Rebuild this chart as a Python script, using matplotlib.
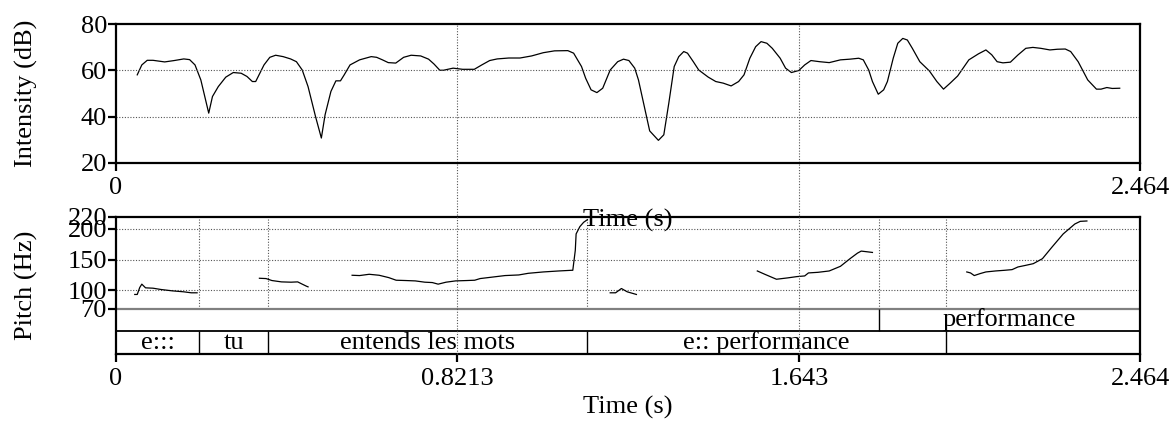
import matplotlib.pyplot as plt
from matplotlib.transforms import blended_transform_factory
from matplotlib.lines import Line2D

plt.rcParams['font.family'] = ['Liberation Serif', 'DejaVu Serif']
plt.rcParams['font.size'] = 19

T_END = 2.464

# intensity contour (s, dB)
int_t = [0.051, 0.062, 0.075, 0.089, 0.117, 0.140, 0.163, 0.177, 0.190, 0.204,
         0.223, 0.232, 0.246, 0.264, 0.282, 0.301, 0.315, 0.328, 0.336, 0.356,
         0.370, 0.384, 0.402, 0.420, 0.434, 0.448, 0.462, 0.480, 0.494, 0.503,
         0.517, 0.529, 0.540, 0.549, 0.563, 0.586, 0.614, 0.627, 0.641, 0.655,
         0.673, 0.692, 0.710, 0.733, 0.752, 0.765, 0.779, 0.788, 0.811, 0.834,
         0.862, 0.880, 0.899, 0.917, 0.945, 0.972, 1.000, 1.028, 1.055, 1.087,
         1.101, 1.120, 1.130, 1.143, 1.157, 1.171, 1.189, 1.207, 1.221, 1.234,
         1.248, 1.257, 1.271, 1.284, 1.305, 1.318, 1.330, 1.343, 1.354, 1.366,
         1.375, 1.389, 1.402, 1.425, 1.443, 1.461, 1.480, 1.498, 1.511, 1.525,
         1.539, 1.552, 1.566, 1.579, 1.598, 1.611, 1.625, 1.643, 1.657, 1.672,
         1.693, 1.716, 1.743, 1.766, 1.787, 1.798, 1.811, 1.820, 1.834, 1.847,
         1.856, 1.870, 1.881, 1.893, 1.904, 1.916, 1.934, 1.957, 1.975, 1.991,
         2.007, 2.025, 2.052, 2.075, 2.093, 2.107, 2.120, 2.134, 2.152, 2.170,
         2.189, 2.206, 2.225, 2.247, 2.265, 2.284, 2.297, 2.315, 2.338, 2.359,
         2.370, 2.384, 2.397, 2.415]
int_db = [58.1, 62.4, 64.4, 64.4, 63.7, 64.3, 65.0, 64.7, 62.4, 55.9,
          41.5, 48.7, 53.0, 57.1, 59.1, 58.8, 57.4, 55.2, 55.2, 62.4,
          65.7, 66.6, 66.0, 65.0, 63.8, 60.2, 53.0, 40.0, 30.7, 40.8,
          50.9, 55.5, 55.5, 58.1, 62.4, 64.6, 66.0, 65.7, 64.6, 63.4,
          63.2, 65.7, 66.6, 66.3, 64.9, 62.8, 60.1, 60.1, 61.0, 60.5,
          60.5, 62.4, 64.3, 65.0, 65.4, 65.4, 66.3, 67.7, 68.5, 68.6,
          67.5, 61.7, 56.6, 51.6, 50.4, 52.3, 60.2, 63.8, 64.9, 64.3,
          61.0, 55.9, 44.4, 33.8, 29.7, 32.1, 45.8, 61.7, 66.0, 68.2,
          67.5, 63.8, 60.2, 57.1, 55.2, 54.5, 53.3, 55.2, 58.1, 65.3,
          70.3, 72.5, 71.8, 69.6, 65.3, 61.0, 59.1, 60.0, 62.4, 64.3,
          63.8, 63.4, 64.6, 64.9, 65.3, 64.6, 60.2, 55.2, 49.7, 51.6,
          55.2, 65.3, 71.8, 73.9, 73.2, 69.6, 63.8, 59.8, 55.2, 51.9,
          54.5, 57.6, 64.6, 67.2, 68.9, 66.8, 63.8, 63.3, 63.6, 66.7,
          69.6, 70.0, 69.6, 68.9, 69.2, 69.3, 68.2, 63.8, 55.9, 51.9,
          51.9, 52.6, 52.2, 52.3]

# pitch contour pieces (s, Hz)
pitch_t1 = [0.045, 0.051, 0.057, 0.062, 0.071, 0.089, 0.108, 0.135, 0.163, 0.181, 0.195]
pitch_hz1 = [93.2, 93.2, 104.5, 110.0, 104.0, 103.4, 101.3, 99.1, 97.5, 95.9, 95.9]
pitch_t2 = [0.345, 0.361, 0.375, 0.398, 0.421, 0.437, 0.448, 0.458, 0.462]
pitch_hz2 = [119.6, 119.1, 115.9, 113.7, 113.2, 113.7, 110.0, 106.7, 105.6]
pitch_t3 = [0.568, 0.586, 0.609, 0.633, 0.656, 0.674, 0.697, 0.720, 0.743, 0.761,
            0.775, 0.794, 0.817, 0.844, 0.863, 0.876, 0.909, 0.936, 0.969, 0.992,
            1.028, 1.065, 1.096, 1.099, 1.105, 1.107, 1.116, 1.125, 1.134]
pitch_hz3 = [124.5, 124.0, 126.1, 124.5, 120.7, 116.4, 115.9, 115.3, 113.2, 112.6,
             110.0, 113.2, 115.3, 115.9, 116.4, 119.1, 121.8, 124.0, 125.0, 127.7,
             129.9, 131.5, 132.6, 132.6, 165.0, 191.9, 203.8, 210.8, 215.1]
pitch_t4 = [1.189, 1.202, 1.216, 1.230, 1.252]
pitch_hz4 = [95.9, 95.9, 102.9, 97.5, 93.2]
pitch_t5 = [1.543, 1.561, 1.589, 1.616, 1.638, 1.657, 1.666, 1.689, 1.716, 1.743,
            1.766, 1.784, 1.793, 1.807, 1.820]
pitch_hz5 = [131.5, 126.1, 118.0, 120.2, 122.3, 123.4, 128.3, 129.3, 131.5, 139.1,
             151.5, 160.6, 163.9, 162.8, 161.7]
pitch_t6 = [2.047, 2.056, 2.065, 2.079, 2.093, 2.116, 2.138, 2.156, 2.170, 2.189,
            2.207, 2.229, 2.252, 2.279, 2.307, 2.320, 2.336]
pitch_hz6 = [129.9, 128.3, 124.0, 127.2, 129.9, 131.5, 132.6, 133.7, 138.0, 140.7,
             143.4, 151.5, 170.4, 191.9, 208.1, 212.4, 213.0]
pitch_pieces = [(pitch_t1, pitch_hz1), (pitch_t2, pitch_hz2), (pitch_t3, pitch_hz3),
                (pitch_t4, pitch_hz4), (pitch_t5, pitch_hz5), (pitch_t6, pitch_hz6)]

# text grid tiers
tier1_edges = [0, 1.836, 2.464]
tier1_labels = ['', 'performance']
tier2_edges = [0, 0.2007, 0.366, 1.134, 1.996, 2.464]
tier2_labels = ['e:::', 'tu', 'entends les mots', 'e:: performance', '']

top_xticks = [0, 2.464]
bot_xticks = [0, 0.8213, 1.643, 2.464]
bot_xlabels = ['0', '0.8213', '1.643', '2.464']
db_ticks = [20, 40, 60, 80]
hz_ticks = [70, 100, 150, 200, 220]
hz_grid = [100, 150, 200]
db_grid = [40, 60]

P_MIN, P_MAX = 70, 220
TIER_H = 37.2      # height of one tier in Hz units
TEXT_LIFT = 8.5    # baseline of tier text above tier bottom, Hz units

GRID = dict(color='#555555', linestyle=(0, (1, 1.5)), linewidth=0.8)
SPINE_W = 1.6

fig = plt.figure(figsize=(11.71, 4.21), dpi=100)
ax1 = fig.add_axes([0.0991, 0.6135, 0.8745, 0.3287])
ax2 = fig.add_axes([0.0991, 0.1584, 0.8745, 0.3269])
ax1.set_zorder(3)
ax1.patch.set_alpha(0)

for ax in (ax1, ax2):
    for s in ax.spines.values():
        s.set_linewidth(SPINE_W)
    ax.tick_params(direction='out', length=6, width=SPINE_W)
    ax.tick_params(axis='y', pad=0.5)
    ax.tick_params(axis='x', pad=4)
    ax.set_xlim(0, T_END)

# intensity
ax1.plot(int_t, int_db, color='black', linewidth=0.9)
ax1.set_ylim(20, 80)
ax1.set_yticks(db_ticks)
ax1.set_xticks(top_xticks)
ax1.set_xticklabels(['0', '2.464'])
for y in db_grid:
    ax1.axhline(y, **GRID)
ax1.set_xlabel('Time (s)')
ax1.xaxis.set_label_coords(0.5, -0.4646)
ax1.xaxis.label.set_va('baseline')

# pitch + tiers
y_bot = P_MIN - 2 * TIER_H
ax2.set_ylim(y_bot, P_MAX)
ax2.set_yticks(hz_ticks)
ax2.set_xticks(bot_xticks)
ax2.set_xticklabels(bot_xlabels)
for y in hz_grid:
    ax2.axhline(y, **GRID)
for e in tier1_edges[1:-1] + tier2_edges[1:-1]:
    ax2.vlines(e, P_MIN, P_MAX, **GRID)
for t, hz in pitch_pieces:
    ax2.plot(t, hz, color='black', linewidth=0.9)

ax2.axhline(P_MIN, color='#808080', linewidth=1.6)
ax2.axhline(P_MIN - TIER_H, color='black', linewidth=1.3)
for e in tier1_edges[1:-1]:
    ax2.vlines(e, P_MIN - TIER_H, P_MIN, color='black', linewidth=1.0)
for e in tier2_edges[1:-1]:
    ax2.vlines(e, y_bot, P_MIN - TIER_H, color='black', linewidth=1.0)
for a, b, lab in zip(tier1_edges[:-1], tier1_edges[1:], tier1_labels):
    ax2.text((a + b) / 2, P_MIN - TIER_H + TEXT_LIFT, lab, ha='center', va='baseline')
for a, b, lab in zip(tier2_edges[:-1], tier2_edges[1:], tier2_labels):
    ax2.text((a + b) / 2, y_bot + TEXT_LIFT, lab, ha='center', va='baseline')

ax2.set_xlabel('Time (s)')
ax2.xaxis.set_label_coords(0.5, -0.43)
ax2.xaxis.label.set_va('baseline')

fig.text(0.0225, 0.6135 + 0.3287 / 2, 'Intensity (dB)', rotation=90, ha='center', va='center')
fig.text(0.0225, 0.1584 + 0.3269 / 2, 'Pitch (Hz)', rotation=90, ha='center', va='center')

# time grid lines running through both panels
tr = blended_transform_factory(ax1.transData, fig.transFigure)
for x in bot_xticks[1:-1]:
    fig.add_artist(Line2D([x, x], [0.1584, 0.6135 + 0.3287], transform=tr, **GRID))

fig.savefig('out.png', dpi=100)
